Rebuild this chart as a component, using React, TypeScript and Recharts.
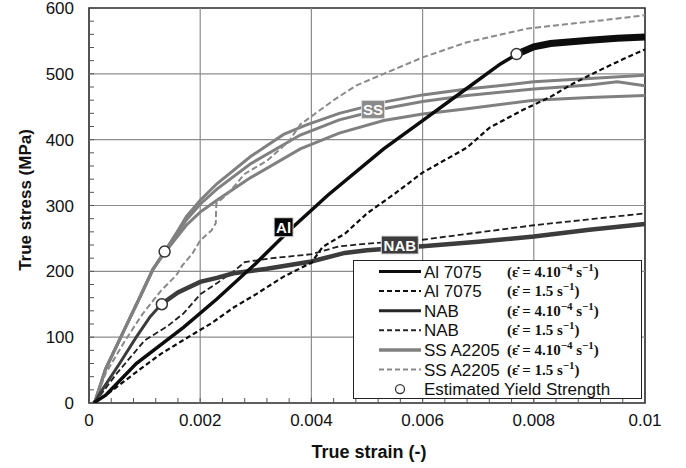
import React from 'react';
import { ComposedChart, Line, XAxis, YAxis, ReferenceLine, ReferenceArea, ReferenceDot, Legend } from 'recharts';

// ---------- data (strain, stress MPa) ----------
const al7075Slow: [number, number][] = [
  [0.00008, 0], [0.0003, 12], [0.00085, 60], [0.0017, 115], [0.0023, 158], [0.003, 212], [0.0036, 262],
  [0.0043, 316], [0.0053, 386], [0.006, 429], [0.0067, 472], [0.0074, 515], [0.0077, 530], [0.008, 541],
  [0.0083, 546], [0.009, 551], [0.0095, 554], [0.01, 556],
];
const al7075Fast: [number, number][] = [
  [0.0001, 0], [0.0004, 18], [0.00085, 47], [0.0013, 75], [0.0019, 106], [0.0022, 121], [0.0026, 145],
  [0.003, 165], [0.0035, 192], [0.004, 213], [0.0042, 237], [0.0046, 257], [0.005, 288], [0.0055, 318],
  [0.006, 350], [0.0064, 369], [0.0068, 388], [0.0072, 418], [0.0078, 445], [0.0083, 465], [0.0087, 485],
  [0.0092, 506], [0.0096, 522], [0.01, 537],
];
const nabSlow: [number, number][] = [
  [0.0001, 0], [0.0002, 15], [0.00055, 60], [0.00085, 100], [0.0011, 131], [0.0013, 150], [0.0016, 168],
  [0.002, 184], [0.0023, 190], [0.0026, 197], [0.0032, 204], [0.004, 215], [0.0046, 228], [0.005, 232],
  [0.006, 238], [0.007, 245], [0.008, 253], [0.009, 263], [0.01, 272],
];
const nabFast: [number, number][] = [
  [0.0001, 0], [0.0005, 45], [0.001, 95], [0.0014, 116], [0.0017, 136], [0.002, 165], [0.0023, 182],
  [0.0026, 200], [0.0028, 214], [0.0033, 220], [0.004, 226], [0.0045, 238], [0.005, 242], [0.006, 248],
  [0.007, 259], [0.008, 270], [0.009, 279], [0.01, 288],
];
const ssSlowA: [number, number][] = [
  [0.0001, 0], [0.0003, 52], [0.0006, 105], [0.0009, 158], [0.00115, 203], [0.00136, 230], [0.0016, 262],
  [0.00175, 283], [0.002, 308], [0.0023, 333], [0.0029, 374], [0.0035, 408], [0.0039, 422], [0.0045, 440],
  [0.0053, 457], [0.006, 468], [0.0068, 477], [0.0075, 483], [0.008, 488], [0.009, 493], [0.01, 498],
];
const ssSlowB: [number, number][] = [
  [0.0001, 0], [0.0003, 52], [0.0006, 105], [0.0009, 158], [0.00115, 203], [0.00136, 230], [0.0016, 259],
  [0.00175, 278], [0.002, 302], [0.0023, 325], [0.0029, 363], [0.0038, 407], [0.0045, 430], [0.0053, 447],
  [0.006, 458], [0.0068, 467], [0.008, 477], [0.009, 483], [0.0095, 488], [0.01, 482],
];
const ssSlowC: [number, number][] = [
  [0.0001, 0], [0.0003, 52], [0.0006, 105], [0.0009, 158], [0.00115, 203], [0.00136, 228], [0.0016, 254],
  [0.00175, 270], [0.002, 290], [0.0023, 308], [0.0029, 342], [0.0038, 386], [0.0045, 410], [0.0053, 429],
  [0.006, 439], [0.0068, 447], [0.008, 460], [0.009, 464], [0.01, 467],
];
const ssFast: [number, number][] = [
  [0.0001, 0], [0.0003, 45], [0.00065, 95], [0.00097, 136], [0.0013, 171], [0.00157, 194], [0.00168, 209],
  [0.00186, 227], [0.002, 247], [0.0022, 262], [0.00228, 273], [0.00229, 303], [0.0025, 318], [0.0028, 348],
  [0.0032, 368], [0.0036, 398], [0.0038, 423], [0.0044, 460], [0.0048, 482], [0.0053, 500], [0.006, 525],
  [0.0068, 548], [0.0079, 569], [0.0092, 581], [0.01, 589],
];
const yieldPoints: [number, number][] = [[0.00136, 230], [0.00131, 150], [0.00769, 530]];
const alYieldStrain = 0.0077;
const nabYieldStrain = 0.0013;

const curveLabels = [
  { text: 'Al', x: 0.0035, y: 267 },
  { text: 'SS', x: 0.00511, y: 446 },
  { text: 'NAB', x: 0.00559, y: 240 },
];

const xTicks = [0, 0.0004, 0.0008, 0.0012, 0.0016, 0.002, 0.0024, 0.0028, 0.0032, 0.0036, 0.004, 0.0044, 0.0048,
  0.0052, 0.0056, 0.006, 0.0064, 0.0068, 0.0072, 0.0076, 0.008, 0.0084, 0.0088, 0.0092, 0.0096, 0.01];
const xMajorTicks = [0, 0.002, 0.004, 0.006, 0.008, 0.01];
const xMajorLabels = ['0', '0.002', '0.004', '0.006', '0.008', '0.01'];
const yTicks = [0, 20, 40, 60, 80, 100, 120, 140, 160, 180, 200, 220, 240, 260, 280, 300, 320, 340, 360, 380,
  400, 420, 440, 460, 480, 500, 520, 540, 560, 580, 600];
const yMajorTicks = [0, 100, 200, 300, 400, 500, 600];
const yMajorLabels = ['0', '100', '200', '300', '400', '500', '600'];

const legendNames = ['Al 7075', 'Al 7075', 'NAB', 'NAB', 'SS A2205', 'SS A2205'];
const legendRates = ['slow', 'fast', 'slow', 'fast', 'slow', 'fast'];
const legendMarkerLabel = 'Estimated Yield Strength';

// ---------- styles ----------
const SANS = '"Liberation Sans", Arial, sans-serif';
const SERIF = '"Liberation Serif", "Times New Roman", serif';
const C_AL = '#0d0d0d';
const C_NAB = '#3c3c3c';
const C_SS = '#808080';
const C_SSD = '#8a8a8a';

const legendStyles = [
  { color: C_AL, width: 3, dash: undefined },
  { color: C_AL, width: 2, dash: '5 3' },
  { color: '#262626', width: 3, dash: undefined },
  { color: '#262626', width: 2, dash: '5 3' },
  { color: C_SS, width: 3.5, dash: undefined },
  { color: C_SSD, width: 2, dash: '5 3' },
];

const pts = (arr: [number, number][]) => arr.map(([x, y]) => ({ x, y }));

const XTick = (props: any) => {
  const { x, y, payload } = props;
  const i = xMajorTicks.indexOf(payload.value);
  return (
    <g>
      <line x1={x} y1={y} x2={x} y2={y - 5} stroke="#555" strokeWidth={1} />
      {i >= 0 && (
        <text x={x} y={y + 23} textAnchor="middle" fontSize={17} fill="#111" fontFamily={SANS}>
          {xMajorLabels[i]}
        </text>
      )}
    </g>
  );
};

const YTick = (props: any) => {
  const { x, y, payload } = props;
  const i = yMajorTicks.indexOf(payload.value);
  return (
    <g>
      <line x1={x} y1={y} x2={x + 5} y2={y} stroke="#555" strokeWidth={1} />
      {i >= 0 && (
        <text x={x - 15} y={y + 6} textAnchor="end" fontSize={17} fill="#111" fontFamily={SANS}>
          {yMajorLabels[i]}
        </text>
      )}
    </g>
  );
};

const Rate = ({ kind, y }: { kind: string; y: number }) => (
  <text x={153} y={y} fontFamily={SERIF} fontWeight="bold" fontSize={15} fill="#111">
    {kind === 'slow' ? '(ε̇ = 4.10' : '(ε̇ = 1.5 s'}
    {kind === 'slow' ? (
      <>
        <tspan dy={-6} fontSize={11}>−4</tspan>
        <tspan dy={6}> s</tspan>
      </>
    ) : null}
    <tspan dy={-6} fontSize={11}>−1</tspan>
    <tspan dy={6}>)</tspan>
  </text>
);

const LegendBox = () => {
  const rowY = (i: number) => 10.5 + i * 19.6;
  return (
    <div style={{ width: 289, height: 139, border: '1.5px solid #222', background: '#fff', boxSizing: 'border-box' }}>
      <svg width={286} height={136} style={{ display: 'block', overflow: 'visible' }}>
        {legendNames.map((n, i) => (
          <g key={i}>
            <line x1={25} x2={67} y1={rowY(i)} y2={rowY(i)} stroke={legendStyles[i].color}
              strokeWidth={legendStyles[i].width} strokeDasharray={legendStyles[i].dash} />
            <text x={70} y={rowY(i) + 6} fontFamily={SANS} fontSize={17} fill="#111">{n}</text>
            <Rate kind={legendRates[i]} y={rowY(i) + 5} />
          </g>
        ))}
        <circle cx={46} cy={rowY(6)} r={4.5} fill="#fff" stroke="#333" strokeWidth={1.3} />
        <text x={70} y={rowY(6) + 6} fontFamily={SANS} fontSize={17} fill="#111">{legendMarkerLabel}</text>
      </svg>
    </div>
  );
};

const labelBox = (text: string) => (p: any) => {
  const w = text === 'NAB' ? 37 : text === 'SS' ? 23 : 19;
  const h = text === 'Al' ? 19 : 18;
  const fill = text === 'NAB' ? C_NAB : text === 'SS' ? '#8a8a8a' : '#050505';
  return (
    <g>
      <rect x={p.cx - w / 2} y={p.cy - h / 2} width={w} height={h} fill={fill} stroke="#ddd" strokeWidth={1} />
      <text x={p.cx} y={p.cy + 5.5} textAnchor="middle" fontFamily={SANS} fontWeight="bold" fontSize={15} fill="#fff">
        {text}
      </text>
    </g>
  );
};

const yTitle = () => (
  <text x={25} y={200} transform="rotate(-90 25 200)" textAnchor="middle" dominantBaseline="central"
    fontFamily={SANS} fontWeight="bold" fontSize={17} fill="#111">
    True stress (MPa)
  </text>
);
const xTitle = () => (
  <text x={369} y={458} textAnchor="middle" fontFamily={SANS} fontWeight="bold" fontSize={18} fill="#111">
    True strain (-)
  </text>
);

export default function App() {
  const common = { dataKey: 'y', dot: false, activeDot: false, isAnimationActive: false, type: 'linear' as const, legendType: 'none' as const };
  return (
    <div style={{ position: 'absolute', left: 0, top: 0, width: 686, height: 468, background: '#fff', fontFamily: SANS }}>
      <ComposedChart width={686} height={468} margin={{ top: 8, right: 41, left: 29, bottom: 0 }}>
        <XAxis dataKey="x" type="number" domain={[0, 0.01]} ticks={xTicks} interval={0} allowDataOverflow
          axisLine={false} tickLine={false} tickSize={0} tickMargin={0} height={65} tick={XTick} label={xTitle} />
        <YAxis dataKey="y" type="number" domain={[0, 600]} ticks={yTicks} interval={0} allowDataOverflow
          axisLine={false} tickLine={false} tickSize={0} tickMargin={0} width={60} tick={YTick} label={yTitle} />
        {xMajorTicks.slice(1, -1).map((v) => (
          <ReferenceLine key={'gx' + v} x={v} stroke="#8c8c8c" strokeWidth={1.2} />
        ))}
        {yMajorTicks.slice(1, -1).map((v) => (
          <ReferenceLine key={'gy' + v} y={v} stroke="#8c8c8c" strokeWidth={1.2} />
        ))}
        <ReferenceArea x1={0} x2={0.01} y1={0} y2={600} fill="none" stroke="#2a2a2a" strokeWidth={1.6} />

        <Line {...common} name="ss-c" data={pts(ssSlowC)} stroke={C_SS} strokeWidth={3} />
        <Line {...common} name="ss-b" data={pts(ssSlowB)} stroke={C_SS} strokeWidth={3} />
        <Line {...common} name="ss-a" data={pts(ssSlowA)} stroke={C_SS} strokeWidth={3} />
        <Line {...common} name="ss-fast" data={pts(ssFast)} stroke={C_SSD} strokeWidth={2} strokeDasharray="6 3" />
        <Line {...common} name="nab-fast" data={pts(nabFast)} stroke="#1e1e1e" strokeWidth={1.8} strokeDasharray="6 3" />
        <Line {...common} name="nab-slow" data={pts(nabSlow)} stroke={C_NAB} strokeWidth={3} />
        <Line {...common} name="nab-slow-plastic" data={pts(nabSlow.filter(([x]) => x >= nabYieldStrain))} stroke={C_NAB} strokeWidth={4.5} />
        <Line {...common} name="al-fast" data={pts(al7075Fast)} stroke={C_AL} strokeWidth={2.2} strokeDasharray="5 3" />
        <Line {...common} name="al-slow" data={pts(al7075Slow)} stroke={C_AL} strokeWidth={3.5} />
        <Line {...common} name="al-slow-plastic" data={pts(al7075Slow.filter(([x]) => x >= alYieldStrain))} stroke={C_AL} strokeWidth={7} />

        {curveLabels.map((l) => (
          <ReferenceDot key={l.text} x={l.x} y={l.y} r={0} shape={labelBox(l.text)} />
        ))}
        {yieldPoints.map(([x, y], i) => (
          <ReferenceDot key={'yp' + i} x={x} y={y} r={5.5} fill="#fff" stroke="#333" strokeWidth={1.5} />
        ))}
        <Legend layout="vertical" align="center" verticalAlign="middle" content={LegendBox}
          wrapperStyle={{ left: 353, top: 260, width: 289, height: 139, right: 'auto', bottom: 'auto' }} />
      </ComposedChart>
    </div>
  );
}
